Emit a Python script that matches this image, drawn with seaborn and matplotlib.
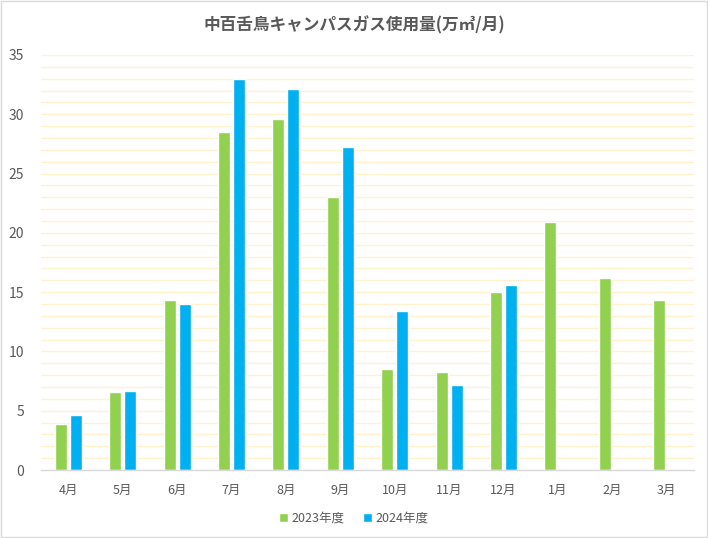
import numpy as np
import pandas as pd
import matplotlib
matplotlib.use("Agg")
import matplotlib.pyplot as plt
import seaborn as sns
from matplotlib.patches import Rectangle

months = ["4月", "5月", "6月", "7月", "8月", "9月", "10月", "11月", "12月", "1月", "2月", "3月"]
fy2023 = [3.9, 6.6, 14.3, 28.5, 29.6, 23.0, 8.5, 8.3, 15.0, 20.9, 16.2, 14.3]
fy2024 = [4.6, 6.7, 14.0, 33.0, 32.1, 27.2, 13.4, 7.2, 15.6, np.nan, np.nan, np.nan]
series = ["2023年度", "2024年度"]
colors = ["#92D050", "#00B0F0"]
title = "中百舌鳥キャンパスガス使用量(万㎥/月)"

df = pd.DataFrame({
    "month": months * 2,
    "value": fy2023 + fy2024,
    "year": [series[0]] * len(months) + [series[1]] * len(months),
})

sns.set_theme(style="white")
plt.rcParams["font.family"] = ["Noto Sans CJK JP", "DejaVu Sans"]

fig = plt.figure(figsize=(7.08, 5.38), dpi=100)
ax = fig.add_axes([41 / 708, 1 - 470 / 538, (694 - 41) / 708, (470 - 55) / 538])

sns.barplot(data=df, x="month", y="value", hue="year", order=months,
            hue_order=series, palette=colors, width=0.55, gap=0.2,
            saturation=1, ax=ax, legend=True)

ax.set_ylim(0, 35)
ax.set_yticks(np.arange(0, 36, 5))
ax.set_yticks(np.arange(0, 36, 1), minor=True)
ax.grid(True, which="both", axis="y", color="#FFF2CC", linewidth=1)
ax.set_axisbelow(True)
for s in ["top", "right", "left"]:
    ax.spines[s].set_visible(False)
ax.spines["bottom"].set_color("#D9D9D9")
ax.spines["bottom"].set_linewidth(1)
ax.tick_params(axis="both", which="both", length=0, colors="#595959")
ax.tick_params(axis="y", pad=12, labelsize=10)
ax.tick_params(axis="x", pad=10, labelsize=9)
ax.set_xlabel("")
ax.set_ylabel("")

fig.text(0.5, 1 - 25 / 538, title, ha="center", va="center", fontsize=12,
         fontweight="bold", color="#595959")

handles, labels = ax.get_legend_handles_labels()
ax.legend_.remove()
fig.legend(handles, labels, loc="center", bbox_to_anchor=(0.5, 1 - 518 / 538),
           ncol=2, frameon=False, fontsize=9, handlelength=0.7, handleheight=0.7,
           handletextpad=0.3, columnspacing=1.5, labelcolor="#595959")

fig.patches.append(Rectangle((0.002, 0.002), 0.996, 0.996, transform=fig.transFigure,
                             fill=False, edgecolor="#D9D9D9", linewidth=1))

fig.savefig("out.png", dpi=100, facecolor="white")
